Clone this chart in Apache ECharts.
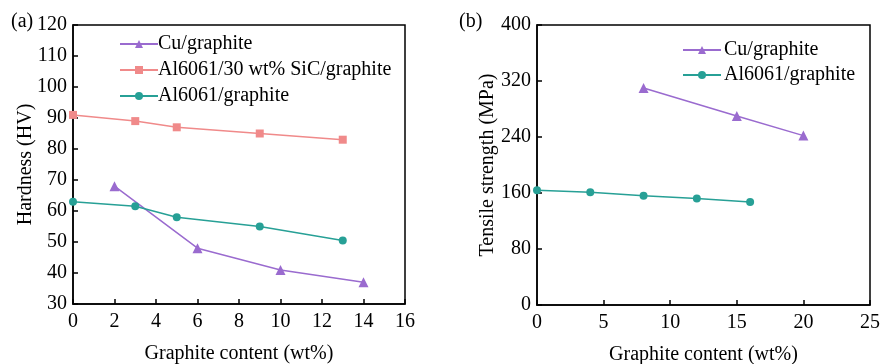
<!DOCTYPE html>
<html>
<head>
<meta charset="utf-8">
<script src="https://cdn.jsdelivr.net/npm/echarts@6/dist/echarts.min.js"></script>
<style>
  html, body { margin: 0; padding: 0; background: #fff; }
  #chart { width: 880px; height: 364px; }
</style>
</head>
<body>
<div id="chart"></div>
<script>
// (a) hardness
var cuHardness = [[2, 68], [6, 48], [10, 41], [14, 37]]
var sicHardness = [[0, 91], [3, 89], [5, 87], [9, 85], [13, 83]]
var alHardness = [[0, 63], [3, 61.5], [5, 58], [9, 55], [13, 50.5]]
// (b) tensile strength
var cuTensile = [[8, 310], [15, 270], [20, 242]]
var alTensile = [[0, 164], [4, 161], [8, 156], [12, 152], [16, 147]]

var seriesNames = ['Cu/graphite', 'Al6061/30 wt% SiC/graphite', 'Al6061/graphite']

var FONT = '"Liberation Serif", "Times New Roman", serif'
var PURPLE = '#9a6bcf'
var SALMON = '#f08a8a'
var TEAL = '#27a096'

function axisCommon(margin) {
  return {
    axisLine: { show: true, lineStyle: { color: '#000', width: 1.5 } },
    axisTick: { show: true, inside: true, length: 5, lineStyle: { color: '#000', width: 1.5 } },
    axisLabel: { color: '#000', fontFamily: FONT, fontSize: 20, margin: margin },
    splitLine: { show: false },
    nameMoveOverlap: false,
    nameTextStyle: { color: '#000', fontFamily: FONT, fontSize: 20 }
  }
}

function makeX(grid, max, interval) {
  return Object.assign(axisCommon(8), {
    type: 'value', gridIndex: grid, min: 0, max: max, interval: interval,
    name: 'Graphite content (wt%)', nameLocation: 'middle', nameGap: 40
  })
}

function makeY(grid, min, max, interval, name, gap) {
  return Object.assign(axisCommon(6), {
    type: 'value', gridIndex: grid, min: min, max: max, interval: interval,
    name: name, nameLocation: 'middle', nameGap: gap
  })
}

function line(name, data, x, color, symbol, size) {
  return {
    name: name, type: 'line', xAxisIndex: x, yAxisIndex: x, data: data,
    symbol: symbol, symbolSize: size,
    lineStyle: { color: color, width: 1.5 },
    itemStyle: { color: color }
  }
}

var myChart = echarts.init(document.getElementById('chart'))
var options = {
  animation: false,
  textStyle: { fontFamily: FONT },
  title: [
    { text: '(a)', left: 6, top: 7, textStyle: { fontFamily: FONT, fontSize: 20, fontWeight: 'normal', color: '#000' } },
    { text: '(b)', left: 454, top: 7, textStyle: { fontFamily: FONT, fontSize: 20, fontWeight: 'normal', color: '#000' } }
  ],
  grid: [
    { left: 73, top: 25, width: 332, height: 279, outerBoundsMode: 'none', show: true, borderColor: '#000', borderWidth: 1.5, backgroundColor: 'transparent' },
    { left: 537, top: 25, width: 333, height: 280, outerBoundsMode: 'none', show: true, borderColor: '#000', borderWidth: 1.5, backgroundColor: 'transparent' }
  ],
  legend: [
    {
      data: seriesNames, orient: 'vertical', left: 119, top: 34, padding: 0,
      itemWidth: 38, itemHeight: 10, itemGap: 6,
      textStyle: { fontFamily: FONT, fontSize: 20, color: '#000', padding: [0, 0, 0, -5] }
    },
    {
      data: ['Cu/graphite', 'Al6061/graphite'], orient: 'vertical', left: 682, top: 40, padding: 0,
      itemWidth: 38, itemHeight: 10, itemGap: 5,
      textStyle: { fontFamily: FONT, fontSize: 20, color: '#000', padding: [0, 0, 0, -2] }
    }
  ],
  xAxis: [makeX(0, 16, 2), makeX(1, 25, 5)],
  yAxis: [
    makeY(0, 30, 120, 10, 'Hardness (HV)', 37),
    makeY(1, 0, 400, 80, 'Tensile strength (MPa)', 39)
  ],
  series: [
    line('Cu/graphite', cuHardness, 0, PURPLE, 'triangle', 10),
    line('Al6061/30 wt% SiC/graphite', sicHardness, 0, SALMON, 'rect', 8),
    line('Al6061/graphite', alHardness, 0, TEAL, 'circle', 8),
    line('Cu/graphite', cuTensile, 1, PURPLE, 'triangle', 10),
    line('Al6061/graphite', alTensile, 1, TEAL, 'circle', 8)
  ]
}
myChart.setOption(options)
</script>
</body>
</html>
